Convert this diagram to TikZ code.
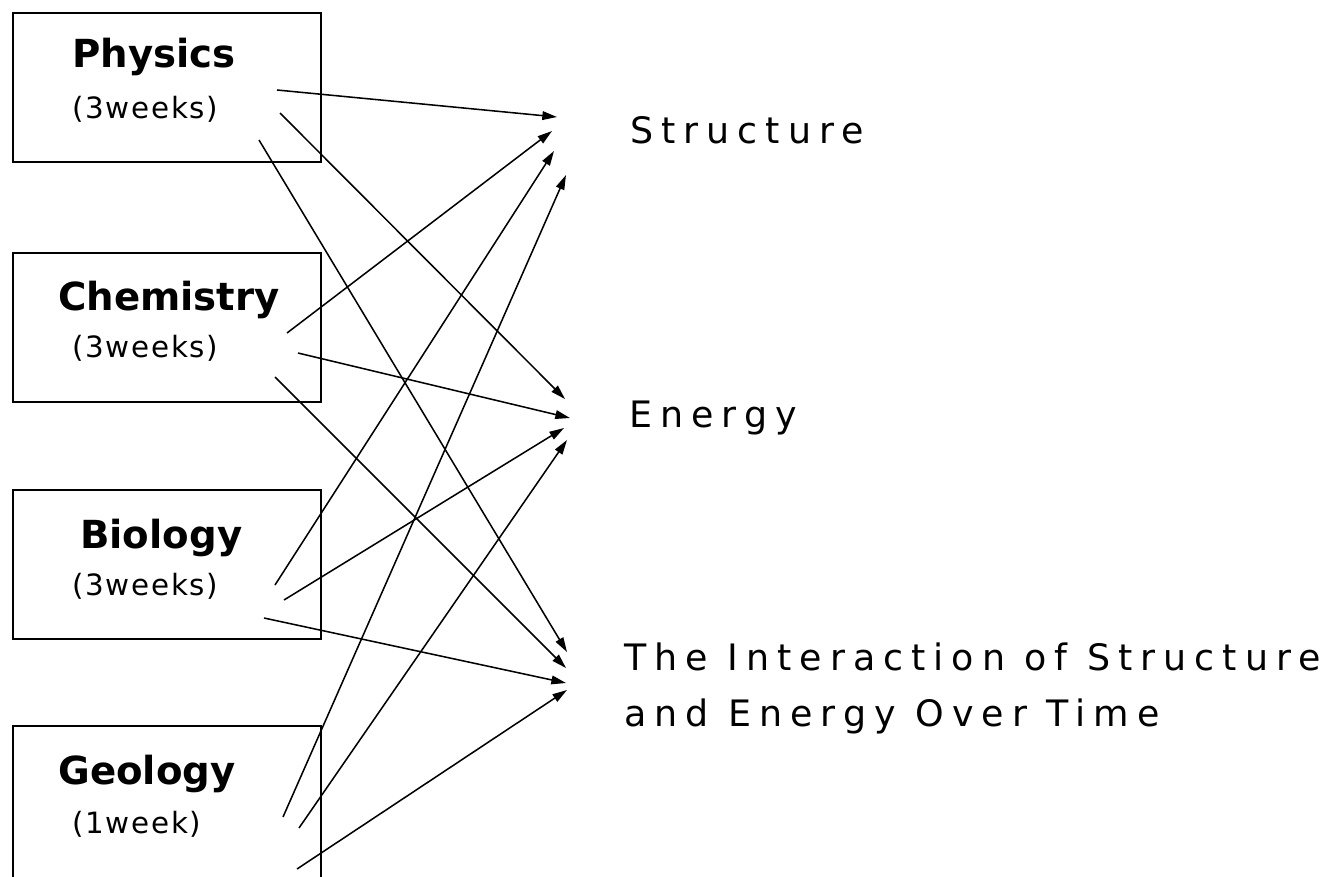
\documentclass[tikz,border=0pt]{standalone}
\usepackage{fontspec}
\setmainfont{DejaVu Sans}
\newfontfamily\labfont[LetterSpace=22]{DejaVu Sans}
\newfontfamily\subfont[LetterSpace=6]{DejaVu Sans}
\usetikzlibrary{arrows.meta}
\begin{document}
\begin{tikzpicture}[x=0.75pt,y=-0.75pt,
  subjbox/.style={draw,line width=1.5pt,rectangle,minimum width=231pt,minimum height=111.75pt,inner sep=0pt},
  title/.style={anchor=base west,inner sep=0pt,font=\fontsize{29pt}{30pt}\selectfont\bfseries},
  weeks/.style={anchor=base west,inner sep=0pt,font=\fontsize{22pt}{24pt}\subfont},
  goal/.style={anchor=base west,inner sep=0pt,font=\fontsize{27.3pt}{28pt}\labfont},
  arr/.style={line width=1.15pt,-{Triangle[length=11pt,width=6.5pt]}}]
\clip (0,0) rectangle (1329,876);
\fill[white] (0,0) rectangle (1329,876);
% boxes
\node[subjbox] (phys) at (167,87.5) {};
\node[subjbox] (chem) at (167,327) {};
\node[subjbox] (bio) at (167,564.5) {};
\node[subjbox,minimum height=115pt] (geo) at (167,803) {};
% box texts
\node[title] (physT) at (72,67) {Physics};
\node[weeks] (physW) at (72,118) {(3weeks)};
\node[title] (chemT) at (58,310) {Chemistry};
\node[weeks] (chemW) at (72,357) {(3weeks)};
\node[title] (bioT) at (80,548) {Biology};
\node[weeks] (bioW) at (72,595) {(3weeks)};
\node[title] (geoT) at (58,784) {Geology};
\node[weeks] (geoW) at (72,833) {(1week)};
% right labels
\node[goal] (struct) at (630,143) {Structure};
\node[goal] (energy) at (629,427) {Energy};
\node[goal] (inter) at (624,670) {The Interaction of Structure};
\node[goal] (inter2) at (624,726) {and Energy Over Time};
% start points
\coordinate (pS) at (277,90);
\coordinate (pE) at (280,113);
\coordinate (pI) at (259,140);
\coordinate (cS) at (287,333);
\coordinate (cE) at (298,353);
\coordinate (cI) at (275,377);
\coordinate (bS) at (275,585);
\coordinate (bE) at (284,600);
\coordinate (bI) at (264,618);
\coordinate (gS) at (283,817);
\coordinate (gE) at (299,828);
\coordinate (gI) at (297,869);
% tips
\coordinate (tpS) at (557,117);
\coordinate (tcS) at (552,131);
\coordinate (tbS) at (554,151);
\coordinate (tgS) at (566,175);
\coordinate (tpE) at (565,399);
\coordinate (tcE) at (570,418);
\coordinate (tbE) at (564,428);
\coordinate (tgE) at (567,440);
\coordinate (tpI) at (567,652);
\coordinate (tcI) at (566,668);
\coordinate (tbI) at (566,683);
\coordinate (tgI) at (567,690);
% connectors
\draw[arr] (pS) -- (tpS);
\draw[arr] (pE) -- (tpE);
\draw[arr] (pI) -- (tpI);
\draw[arr] (cS) -- (tcS);
\draw[arr] (cE) -- (tcE);
\draw[arr] (cI) -- (tcI);
\draw[arr] (bS) -- (tbS);
\draw[arr] (bE) -- (tbE);
\draw[arr] (bI) -- (tbI);
\draw[arr] (gS) -- (tgS);
\draw[arr] (gE) -- (tgE);
\draw[arr] (gI) -- (tgI);
\end{tikzpicture}
\end{document}
